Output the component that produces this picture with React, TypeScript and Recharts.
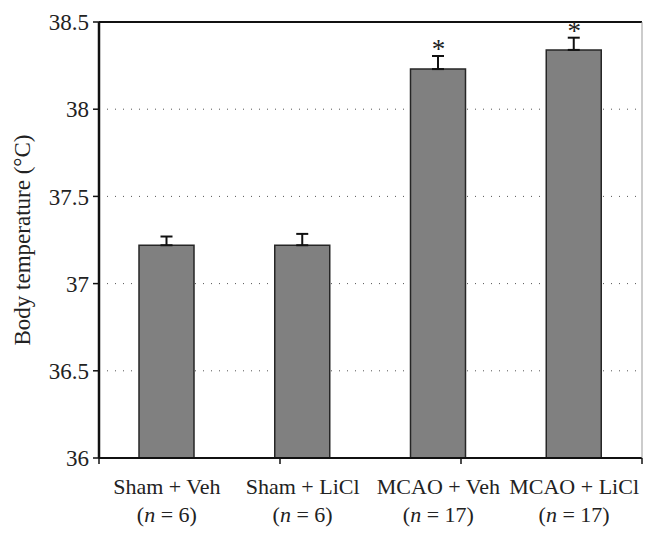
import React from "react";
import {
  BarChart,
  Bar,
  XAxis,
  YAxis,
  CartesianGrid,
  ErrorBar,
  ReferenceLine,
  ReferenceDot,
  Label
} from "recharts";

const groups = ["Sham + Veh", "Sham + LiCl", "MCAO + Veh", "MCAO + LiCl"];
const groupN = ["6", "6", "17", "17"];
const meanTemp = [37.22, 37.22, 38.23, 38.34];
const semTemp = [0.05, 0.065, 0.075, 0.07];
const significant = [false, false, true, true];
const yTicks = [36, 36.5, 37, 37.5, 38, 38.5];
const edgeTicks = [0, 1, 2, 3, 4];

const FONT = "'Liberation Serif', 'DejaVu Serif', serif";

const rows = groups.map((g, i) => ({
  group: g,
  temp: meanTemp[i],
  err: [0, semTemp[i]], // only the upper whisker is drawn in the figure
  top: meanTemp[i] + semTemp[i]
}));

const GroupTick = (props: any) => {
  const { x, y, payload, index } = props;
  return (
    <g transform={`translate(${x},${y})`}>
      <text x={0} y={0} dy={27} textAnchor="middle" fontFamily={FONT} fontSize={22} fill="#222">
        {payload.value}
      </text>
      <text x={0} y={0} dy={55} textAnchor="middle" fontFamily={FONT} fontSize={22} fill="#222">
        (<tspan fontStyle="italic">n</tspan> = {groupN[index]})
      </text>
    </g>
  );
};

// boundary axis only needs its tick marks, not labels
const NoLabel = () => <g />;

const App: React.FC = () => {
  return (
    <BarChart
      width={650}
      height={529}
      data={rows}
      margin={{ top: 14, right: 15, bottom: 0, left: 0 }}
      style={{ fontFamily: FONT }}
    >
      <CartesianGrid vertical={false} stroke="#555" strokeDasharray="1 7" yAxisId="t" xAxisId="b_cat" />
      <XAxis
        xAxisId="a_edges"
        type="number"
        domain={[0, 4]}
        ticks={edgeTicks}
        allowDataOverflow
        interval={0}
        height={1}
        tickSize={6}
        tick={<NoLabel />}
        axisLine={{ stroke: "#111", strokeWidth: 2 }}
        tickLine={{ stroke: "#111", strokeWidth: 1.5 }}
      />
      <XAxis
        xAxisId="b_cat"
        dataKey="group"
        axisLine={false}
        tickLine={false}
        height={78}
        interval={0}
        tick={<GroupTick />}
      />
      <YAxis
        yAxisId="t"
        width={91}
        domain={[36, 38.5]}
        ticks={yTicks}
        tickSize={6}
        tickMargin={4}
        tick={{ fontSize: 23, fill: "#222", fontFamily: FONT }}
        axisLine={{ stroke: "#111", strokeWidth: 2.5 }}
        tickLine={{ stroke: "#111", strokeWidth: 1.5 }}
      >
        <Label
          value="Body temperature (°C)"
          angle={-90}
          position="insideLeft"
          offset={14}
          style={{ textAnchor: "middle", fontSize: 23, fill: "#222", fontFamily: FONT }}
        />
      </YAxis>
      <YAxis
        yAxisId="r"
        orientation="right"
        width={1}
        domain={[36, 38.5]}
        tick={false}
        tickLine={false}
        axisLine={{ stroke: "#999", strokeWidth: 1 }}
      />
      <ReferenceLine y={38.5} yAxisId="t" xAxisId="b_cat" stroke="#111" strokeWidth={2} />
      <Bar
        dataKey="temp"
        yAxisId="t"
        xAxisId="b_cat"
        barSize={55}
        fill="#808080"
        stroke="#262626"
        strokeWidth={1.5}
        isAnimationActive={false}
      >
        <ErrorBar dataKey="err" width={6} stroke="#111" strokeWidth={2} direction="y" />
      </Bar>
      {rows.map((r, i) =>
        significant[i] ? (
          <ReferenceDot
            key={r.group}
            x={r.group}
            y={r.top}
            xAxisId="b_cat"
            yAxisId="t"
            r={0}
            stroke="none"
            fill="none"
            label={{ value: "*", position: "top", offset: -2, fontSize: 27, fill: "#222", fontFamily: FONT }}
          />
        ) : null
      )}
    </BarChart>
  );
};

export default App;
